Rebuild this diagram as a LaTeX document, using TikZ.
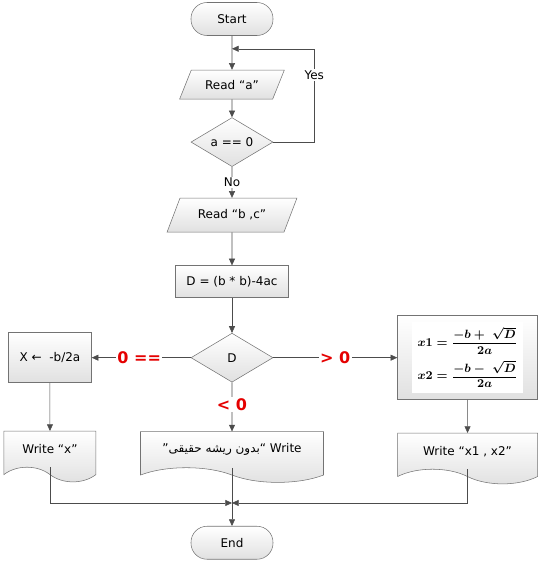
\documentclass[tikz,border=0pt]{standalone}
\usepackage{amsmath}
\usepackage[no-math]{fontspec}
\setmainfont{DejaVu Sans}
\newfontfamily\arabicfont[Script=Arabic]{DejaVu Sans}
\TeXXeTstate=1
\usetikzlibrary{arrows.meta, positioning, shapes.geometric, shapes.symbols}

\begin{document}
\begin{tikzpicture}[
    >={Triangle[length=5pt,width=4.5pt]},
    box/.style={
      draw=black!55, top color=white, bottom color=black!12,
      font=\fontsize{9}{11}\selectfont, align=center, inner sep=2pt
    },
    term/.style={box, rectangle, rounded corners=12pt, minimum width=61.5pt, minimum height=24.75pt},
    io/.style={box, trapezium, trapezium left angle=60, trapezium right angle=120, trapezium stretches=true},
    decision/.style={box, diamond, aspect=1.67, inner sep=1pt, minimum width=61.5pt, minimum height=36.75pt},
    process/.style={box, rectangle},
    docbox/.style={box, tape, tape bend top=none, tape bend bottom=out and in, tape bend height=11pt, minimum height=38pt},
    flow/.style={draw=black!70, ->},
    lbl/.style={fill=white, inner sep=1pt, font=\fontsize{9}{11}\selectfont},
    cond/.style={fill=white, inner sep=1pt, text=red!90!black, font=\fontsize{12}{14}\selectfont\bfseries}
]
    \useasboundingbox (-174pt,14.25pt) rectangle (240.75pt,-406.5pt);

    % Main column
    \node[term] (start) {Start};
    \node[io, below=25.5pt of start, minimum width=78.75pt, minimum height=21.75pt] (reada) {Read “a”};
    \node[decision, below=13.5pt of reada] (aeq) {a == 0};
    \node[io, below=23.25pt of aeq, minimum width=97.5pt, minimum height=25.5pt] (readbc) {Read “b ,c”};
    \node[process, below=24.75pt of readbc, minimum width=84.75pt, minimum height=24pt] (dcalc) {D = (b * b)-4ac};
    \node[decision, below=26.25pt of dcalc] (dtest) {D};

    % Branches
    \node[process, left=74.25pt of dtest, minimum width=62.25pt, minimum height=37.5pt] (xone) {X ←\ \ -b/2a};
    \node[process, right=93pt of dtest, minimum width=105pt, minimum height=63pt] (roots)
      {\setlength{\fboxsep}{4pt}\colorbox{white}{\fontsize{9.5}{11}\selectfont\boldmath$\begin{array}{@{}l@{}}
        x1 = \dfrac{-b + \;\sqrt{D}}{2a} \\[7pt]
        x2 = \dfrac{-b - \;\sqrt{D}}{2a}
      \end{array}$}};

    % Outputs
    \node[docbox, below=36pt of xone, minimum width=69pt] (wx) {Write “x”};
    \node[docbox, below=36.75pt of dtest, minimum width=137.25pt] (wnone)
      {”{\arabicfont\beginR بدون ریشه حقیقی\endR}“ Write};
    \node[docbox, below=24.75pt of roots, minimum width=105pt] (wroots) {Write “x1 , x2”};
    \node[term, below=43.5pt of wnone] (end) {End};

    \coordinate[below=9.75pt of start] (loopin);
    \coordinate (loopcorner) at ([xshift=30.75pt]aeq.east |- loopin);
    \coordinate[above=17.25pt of end] (join);

    % Connectors
    \draw[flow] (start) -- (reada);
    \draw[flow] (reada) -- (aeq);
    \draw[flow] (aeq.east) -| node[lbl, pos=0.86] {Yes} (loopcorner) -- (loopin);
    \draw[flow] (aeq) -- node[lbl] {No} (readbc);
    \draw[flow] (readbc) -- (dcalc);
    \draw[flow] (dcalc) -- (dtest);
    \draw[flow] (dtest) -- node[cond, pos=0.52] {0 ==} (xone);
    \draw[flow] (dtest) -- node[cond] {> 0} (roots);
    \draw[flow] (dtest) -- node[cond, pos=0.45] {< 0} (wnone);
    \draw[flow] (xone) -- (wx);
    \draw[flow] (roots) -- (wroots);
    \draw[flow] (wx.south) |- (join);
    \draw[flow] (wroots.south) |- (join);
    \draw[flow] (wnone.south) -- (end);
\end{tikzpicture}
\end{document}
